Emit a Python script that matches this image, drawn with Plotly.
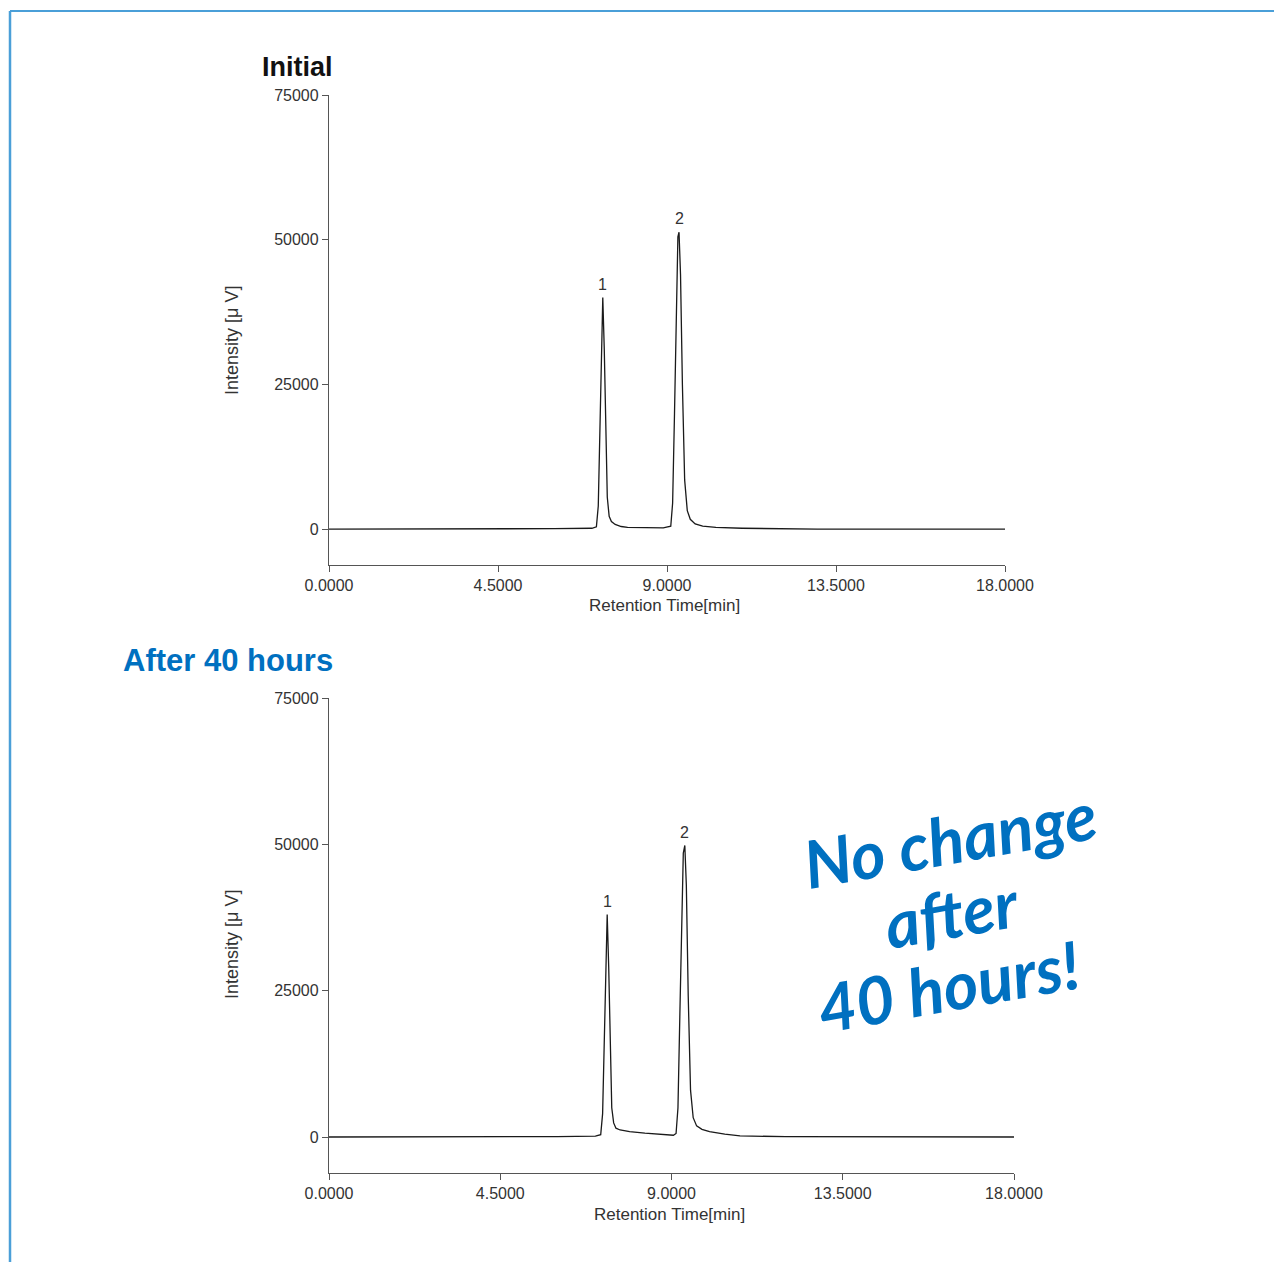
import plotly.graph_objects as go

W, H = 1282, 1262
OFF = 8  # page body margin offset in the browser

# ---- data ----
time_initial = [0.0, 2.0, 4.0, 6.0, 7.0, 7.12, 7.17, 7.21, 7.25, 7.29, 7.33, 7.37, 7.41, 7.46, 7.52, 7.62, 7.78, 7.95, 8.4, 8.9,
                9.1, 9.15, 9.2, 9.25, 9.29, 9.32, 9.36, 9.41, 9.47, 9.54, 9.62, 9.75, 9.95, 10.3, 11.0, 13.0, 15.0, 17.0, 18.0]
intensity_initial = [0, 0, 0, 80, 150, 400, 4000, 16000, 32000, 40000, 31000, 15000, 5500, 2200, 1300, 800, 450, 300, 200, 200,
                     500, 4500, 20000, 41000, 50500, 51300, 44000, 25000, 8500, 3200, 1700, 900, 500, 300, 150, 0, -50, 0, 0]

time_40h = [0.0, 2.0, 4.0, 6.0, 7.0, 7.14, 7.19, 7.23, 7.27, 7.31, 7.35, 7.39, 7.43, 7.48, 7.54, 7.65, 7.9, 8.3, 8.7, 9.05,
            9.12, 9.17, 9.22, 9.27, 9.31, 9.35, 9.39, 9.44, 9.5, 9.57, 9.66, 9.8, 10.0, 10.4, 10.8, 12.0, 15.0, 18.0]
intensity_40h = [0, 0, 0, 80, 150, 400, 4000, 16000, 31000, 38000, 29000, 14000, 5000, 2400, 1500, 1200, 900, 650, 450, 300,
                 600, 5000, 21000, 40000, 48500, 49800, 43000, 24000, 8000, 3300, 1900, 1300, 900, 500, 200, 50, 0, 0]

peak_labels = ["1", "2"]
peaks_initial_t = [7.29, 9.32]
peaks_initial_y = [40000, 51300]
peaks_40h_t = [7.31, 9.35]
peaks_40h_y = [38000, 49800]

x_tickvals = [0, 4.5, 9, 13.5, 18]
x_ticktext = ["0.0000", "4.5000", "9.0000", "13.5000", "18.0000"]
y_tickvals = [0, 25000, 50000, 75000]
y_ticktext = ["0", "25000", "50000", "75000"]

FONT = "Liberation Sans, Arial, sans-serif"
AX = "#555555"
TXT = "#333333"
BLUE = "#0070c0"

def px_x(p):
    return (p - OFF) / W

def px_y(p):
    return 1 - (p - OFF) / H

fig = go.Figure()
fig.add_trace(go.Scatter(x=time_initial, y=intensity_initial, mode="lines",
                         line=dict(color="#1a1a1a", width=1.3), xaxis="x", yaxis="y", showlegend=False))
fig.add_trace(go.Scatter(x=time_40h, y=intensity_40h, mode="lines",
                         line=dict(color="#1a1a1a", width=1.3), xaxis="x2", yaxis="y2", showlegend=False))

axis_common = dict(showgrid=False, zeroline=False, showline=True, linecolor=AX, linewidth=1.3,
                   ticks="outside", ticklen=6, tickcolor=AX, tickwidth=1.3, automargin=False,
                   tickfont=dict(family=FONT, size=16, color=TXT))

fig.update_layout(
    template="none",
    width=W, height=H,
    margin=dict(l=0, r=0, t=0, b=0, pad=0, autoexpand=False),
    paper_bgcolor="white", plot_bgcolor="white",
    xaxis=dict(domain=[px_x(329), px_x(1005)], range=[0, 18], anchor="y",
               tickvals=x_tickvals, ticktext=x_ticktext, **axis_common),
    yaxis=dict(domain=[px_y(565), px_y(95)], range=[-6200, 75000], anchor="x",
               tickvals=y_tickvals, ticktext=y_ticktext, **axis_common),
    xaxis2=dict(domain=[px_x(329), px_x(1014)], range=[0, 18], anchor="y2",
                tickvals=x_tickvals, ticktext=x_ticktext, **axis_common),
    yaxis2=dict(domain=[px_y(1173), px_y(698)], range=[-6150, 75000], anchor="x2",
                tickvals=y_tickvals, ticktext=y_ticktext, **axis_common),
)

ann = []
# peak labels
for lab, t, y in zip(peak_labels, peaks_initial_t, peaks_initial_y):
    ann.append(dict(x=t, y=y, xref="x", yref="y", text=lab, showarrow=False, xanchor="center", yanchor="bottom",
                    yshift=3, font=dict(family=FONT, size=16, color=TXT)))
for lab, t, y in zip(peak_labels, peaks_40h_t, peaks_40h_y):
    ann.append(dict(x=t, y=y, xref="x2", yref="y2", text=lab, showarrow=False, xanchor="center", yanchor="bottom",
                    yshift=3, font=dict(family=FONT, size=16, color=TXT)))

# axis titles
for yc in [341, 945]:
    ann.append(dict(x=px_x(232), y=px_y(yc), xref="paper", yref="paper", text="Intensity [μ V]",
                    textangle=-90, showarrow=False, xanchor="center", yanchor="middle",
                    font=dict(family=FONT, size=18, color=TXT)))
for xc, yc in [(665, 605), (669, 1214)]:
    ann.append(dict(x=px_x(xc), y=px_y(yc), xref="paper", yref="paper", text="Retention Time[min]",
                    showarrow=False, xanchor="center", yanchor="middle",
                    font=dict(family=FONT, size=17, color=TXT)))

# panel titles
ann.append(dict(x=px_x(335), y=px_y(67), xref="paper", yref="paper", text="<b>Initial</b>",
                xanchor="right", yanchor="middle",
                showarrow=False, font=dict(family=FONT, size=27, color="#111111")))
ann.append(dict(x=px_x(335), y=px_y(661), xref="paper", yref="paper", text="<b>After 40 hours</b>",
                xanchor="right", yanchor="middle",
                showarrow=False, font=dict(family=FONT, size=31, color=BLUE)))

# handwritten note
for txt, xc, yc in [("No change", 950, 838), ("after", 951, 912), ("40 hours!", 948, 985)]:
    ann.append(dict(x=px_x(xc), y=px_y(yc), xref="paper", yref="paper", text=txt, textangle=-10,
                    showarrow=False, xanchor="center", yanchor="middle",
                    font=dict(family="Lato", size=66, color=BLUE, style="italic", weight="bold")))

fig.update_layout(annotations=ann)

# blue frame
fig.add_shape(type="line", xref="paper", yref="paper", x0=px_x(10), x1=1, y0=px_y(11), y1=px_y(11),
              line=dict(color="#4a9fd8", width=2))
fig.add_shape(type="line", xref="paper", yref="paper", x0=px_x(10), x1=px_x(10), y0=px_y(11), y1=0,
              line=dict(color="#4a9fd8", width=2.5))

fig.write_html("out.html")
